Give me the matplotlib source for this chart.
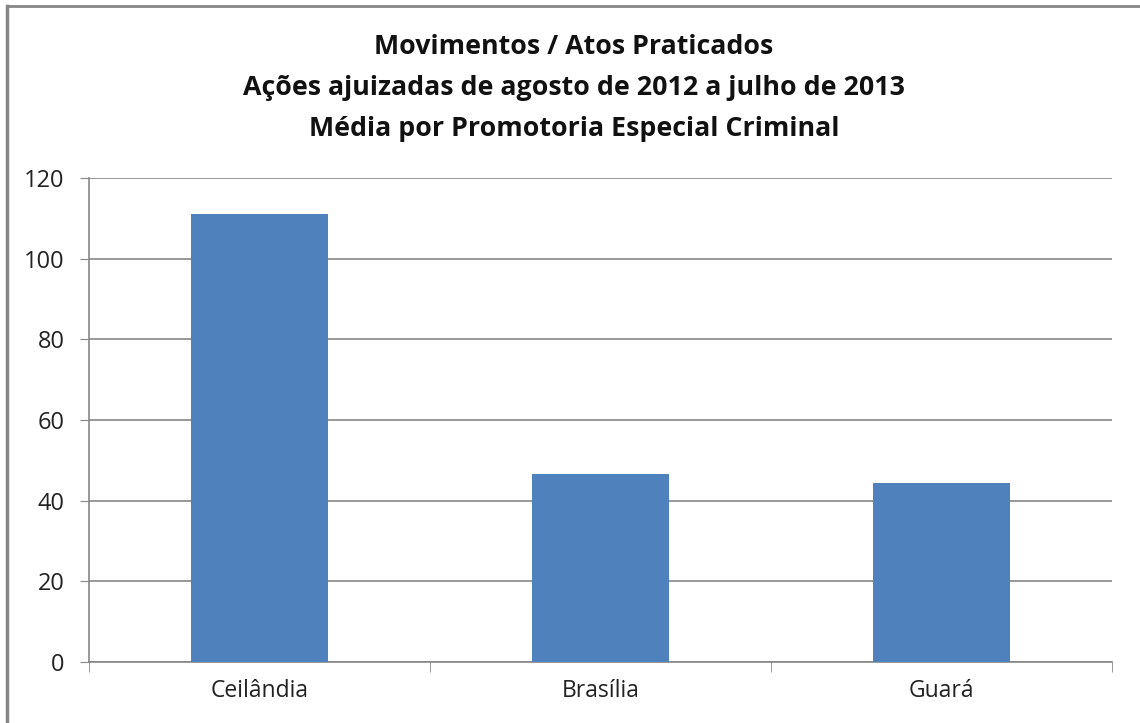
import matplotlib.pyplot as plt
from matplotlib.lines import Line2D

# data
locais = ['Ceilândia', 'Brasília', 'Guará']
media = [111, 46.6, 44.4]
titulo = ['Movimentos / Atos Praticados',
          'Ações ajuizadas de agosto de 2012 a julho de 2013',
          'Média por Promotoria Especial Criminal']

plt.rcParams['font.family'] = ['Open Sans', 'DejaVu Sans']

W, H = 1140, 723
fig = plt.figure(figsize=(W / 100, H / 100), dpi=100)
ax = fig.add_axes([89 / W, 1 - 662 / H, (1112 - 89) / W, (662 - 178) / H])

x = range(len(locais))
ax.bar(x, media, width=0.4, color='#4f81bd', zorder=3)

ax.set_xlim(-0.5, len(locais) - 0.5)
ax.set_ylim(0, 120)
ax.set_yticks(range(0, 121, 20))
ax.set_xticks(list(x))
ax.set_xticklabels(locais, fontsize=16.5, color='#222222')
ax.tick_params(axis='y', labelsize=17, labelcolor='#222222', length=6.5,
               color='#868686', pad=11)
ax.tick_params(axis='x', length=0, pad=12)
# category separator ticks
ax.set_xticks([-0.5, 0.5, 1.5, 2.5], minor=True)
ax.tick_params(axis='x', which='minor', length=7, color='#868686')

ax.grid(axis='y', color='#868686', linewidth=1.2, zorder=0)
for s in ['top', 'right']:
    ax.spines[s].set_visible(False)
for s in ['left', 'bottom']:
    ax.spines[s].set_color('#868686')
    ax.spines[s].set_linewidth(1.2)

for i, t in enumerate(titulo):
    fig.text(574 / W, 1 - (47 + 41 * i) / H, t, ha='center', va='center',
             fontsize=19.3, fontweight='bold', color='#111111')

# outer chart border (partly cut off)
fig.add_artist(Line2D([7 / W, 7 / W], [0, 1 - 6 / H], color='#868686',
                      linewidth=2.5, transform=fig.transFigure))
fig.add_artist(Line2D([7 / W, 1], [1 - 6 / H, 1 - 6 / H], color='#868686',
                      linewidth=2, transform=fig.transFigure))

fig.savefig('out.png', dpi=100)
